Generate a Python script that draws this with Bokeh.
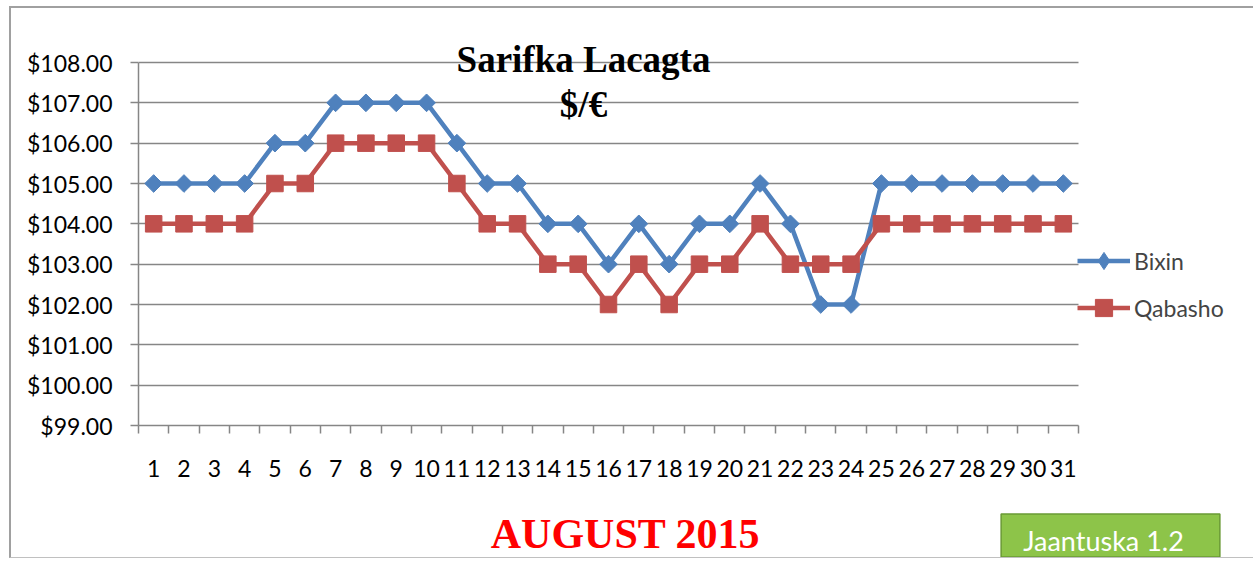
from bokeh.plotting import figure
from bokeh.layouts import column
from bokeh.models import Range1d, FixedTicker, NumeralTickFormatter, Label, Legend, LegendItem
from bokeh.embed import file_html
from bokeh.resources import INLINE
import math

days = list(range(1, 32))
day_labels = [str(d) for d in days]
bixin = [105, 105, 105, 105, 106, 106, 107, 107, 107, 107, 106, 105, 105, 104, 104, 103,
         104, 103, 104, 104, 105, 104, 102, 102, 105, 105, 105, 105, 105, 105, 105]
qabasho = [104, 104, 104, 104, 105, 105, 106, 106, 106, 106, 105, 104, 104, 103, 103, 102,
           103, 102, 103, 103, 104, 103, 103, 103, 104, 104, 104, 104, 104, 104, 104]
y_ticks = list(range(99, 109))
series_names = ["Bixin", "Qabasho"]
title_lines = ["Sarifka Lacagta", "$/€"]
footer_text = "AUGUST 2015"
badge_text = "Jaantuska 1.2"

BLUE = "#4f81bd"
RED = "#c0504d"
GRID = "#868686"
BORDER = "2px solid #a0a0a0"

# ---- geometry (pixels, canvas sizes; CSS borders are drawn outside) ----
W = 1244
H1, H2 = 492, 60
FRAME_L = 127
FRAME_B = 75
FRAME_W = W - FRAME_L
FRAME_H = H1 - FRAME_B
PX_X = 940 / 31     # pixels per day
PX_Y = 363 / 9      # pixels per dollar
x_end = 0.5 + FRAME_W / PX_X
y_end = 99 + FRAME_H / PX_Y

def dx(px):  # px right of the y axis -> data x
    return 0.5 + px / PX_X

def dy(px):  # px below the $108 line -> data y
    return 108 - px / PX_Y

p = figure(width=W, height=H1, output_backend="svg", toolbar_location=None,
           x_range=Range1d(0.5, x_end), y_range=Range1d(99, y_end),
           min_border_left=FRAME_L, min_border_right=0, min_border_top=0,
           min_border_bottom=FRAME_B, margin=(6, 0, 0, 9))
p.styles = {"border-left": BORDER, "border-top": BORDER}
p.outline_line_color = None
p.background_fill_color = "white"
p.border_fill_color = "white"

# x axis
p.xaxis.ticker = FixedTicker(ticks=days, minor_ticks=[d - 0.5 for d in days] + [31.5])
p.xaxis.bounds = (0.5, 31.5)
p.xaxis.major_label_overrides = {d: l for d, l in zip(days, day_labels)}
p.xaxis.major_tick_out = 0
p.xaxis.major_tick_in = 0
p.xaxis.minor_tick_out = 8
p.xaxis.minor_tick_in = 0
p.xaxis.minor_tick_line_color = GRID
p.xaxis.minor_tick_line_width = 1.5
p.xaxis.axis_line_color = GRID
p.xaxis.axis_line_width = 1.5
p.xaxis.major_label_standoff = 26
p.xaxis.major_label_text_font = "Lato"
p.xaxis.major_label_text_font_size = "23px"
p.xaxis.major_label_text_color = "black"

# y axis
p.yaxis.ticker = FixedTicker(ticks=y_ticks)
p.yaxis.bounds = (99, 108)
p.yaxis.formatter = NumeralTickFormatter(format="$0.00")
p.yaxis.major_tick_out = 8
p.yaxis.major_tick_in = 0
p.yaxis.minor_tick_line_color = None
p.yaxis.major_tick_line_color = GRID
p.yaxis.major_tick_line_width = 1.5
p.yaxis.axis_line_color = GRID
p.yaxis.axis_line_width = 1.5
p.yaxis.major_label_standoff = 18
p.yaxis.major_label_text_font = "Lato"
p.yaxis.major_label_text_font_size = "23px"
p.yaxis.major_label_text_color = "black"

p.xgrid.grid_line_color = None
yg = p.ygrid[0]
if "cross_bounds" in yg.properties():
    yg.ticker = FixedTicker(ticks=y_ticks)
    yg.cross_bounds = (0.5, 31.5)
    yg.grid_line_color = GRID
    yg.grid_line_width = 1.5
else:
    yg.grid_line_color = None
    p.segment(x0=[0.5] * len(y_ticks), x1=[31.5] * len(y_ticks), y0=y_ticks, y1=y_ticks,
              line_color=GRID, line_width=1.5)

l1 = p.line(days, bixin, line_color=BLUE, line_width=4.5)
m1 = p.scatter(days, bixin, marker="square", size=12.5, angle=math.pi / 4,
               fill_color=BLUE, line_color=BLUE)
l2 = p.line(days, qabasho, line_color=RED, line_width=4.5)
m2 = p.scatter(days, qabasho, marker="square", size=16.5, fill_color=RED, line_color=RED)
# legend-only diamond (legend glyphs ignore marker angle)
m1_leg = p.scatter(days, bixin, marker="diamond", size=20, fill_color=BLUE,
                   line_color=BLUE, visible=False)

legend = Legend(items=[LegendItem(label=series_names[0], renderers=[l1, m1_leg]),
                       LegendItem(label=series_names[1], renderers=[l2, m2])],
                location=(939, 96), glyph_width=53, glyph_height=43, spacing=4,
                label_standoff=4, padding=0, margin=0,
                label_text_font="Lato", label_text_font_size="23px",
                background_fill_alpha=0, border_line_color=None)
p.add_layout(legend, "center")

p.add_layout(Label(x=dx(445), y=dy(-3.5), text=title_lines[0], text_align="center",
                   text_baseline="alphabetic", text_font="Liberation Serif",
                   text_font_style="bold", text_font_size="37px", text_color="black"))
p.add_layout(Label(x=dx(445), y=dy(41.5), text=title_lines[1], text_align="center",
                   text_baseline="alphabetic", text_font="Liberation Serif",
                   text_font_style="bold", text_font_size="37px", text_color="black"))

# ---- footer strip (no axes); its frame is aligned with the chart frame ----
f = figure(width=W, height=H2, output_backend="svg", toolbar_location=None,
           x_range=Range1d(FRAME_L, W), y_range=Range1d(0, H2),
           x_axis_location=None, y_axis_location=None,
           min_border_left=FRAME_L, min_border_right=0, min_border_top=0, min_border_bottom=0,
           margin=(0, 0, 0, 9))
f.styles = {"border-left": BORDER, "border-bottom": "1px solid #c0c0c0"}
f.grid.grid_line_color = None
f.outline_line_color = None
f.background_fill_color = "white"
f.border_fill_color = "white"

f.add_layout(Label(x=614, y=H2 - 35, text=footer_text, text_align="center",
                   text_baseline="alphabetic", text_font="Liberation Serif",
                   text_font_style="bold", text_font_size="42px", text_color="#ff0000"))
f.add_layout(Label(x=1099, y=H2 - 37, text=badge_text, text_align="center",
                   text_baseline="middle", text_font="Lato",
                   text_font_size="27px", text_color="white",
                   background_fill_color="#8dc449", border_line_color="#6a9a35",
                   border_line_width=1.5,
                   padding=dict(left=22, right=36, top=10, bottom=0)))

layout = column(p, f, spacing=0)
open("out.html", "w").write(file_html(layout, INLINE))
